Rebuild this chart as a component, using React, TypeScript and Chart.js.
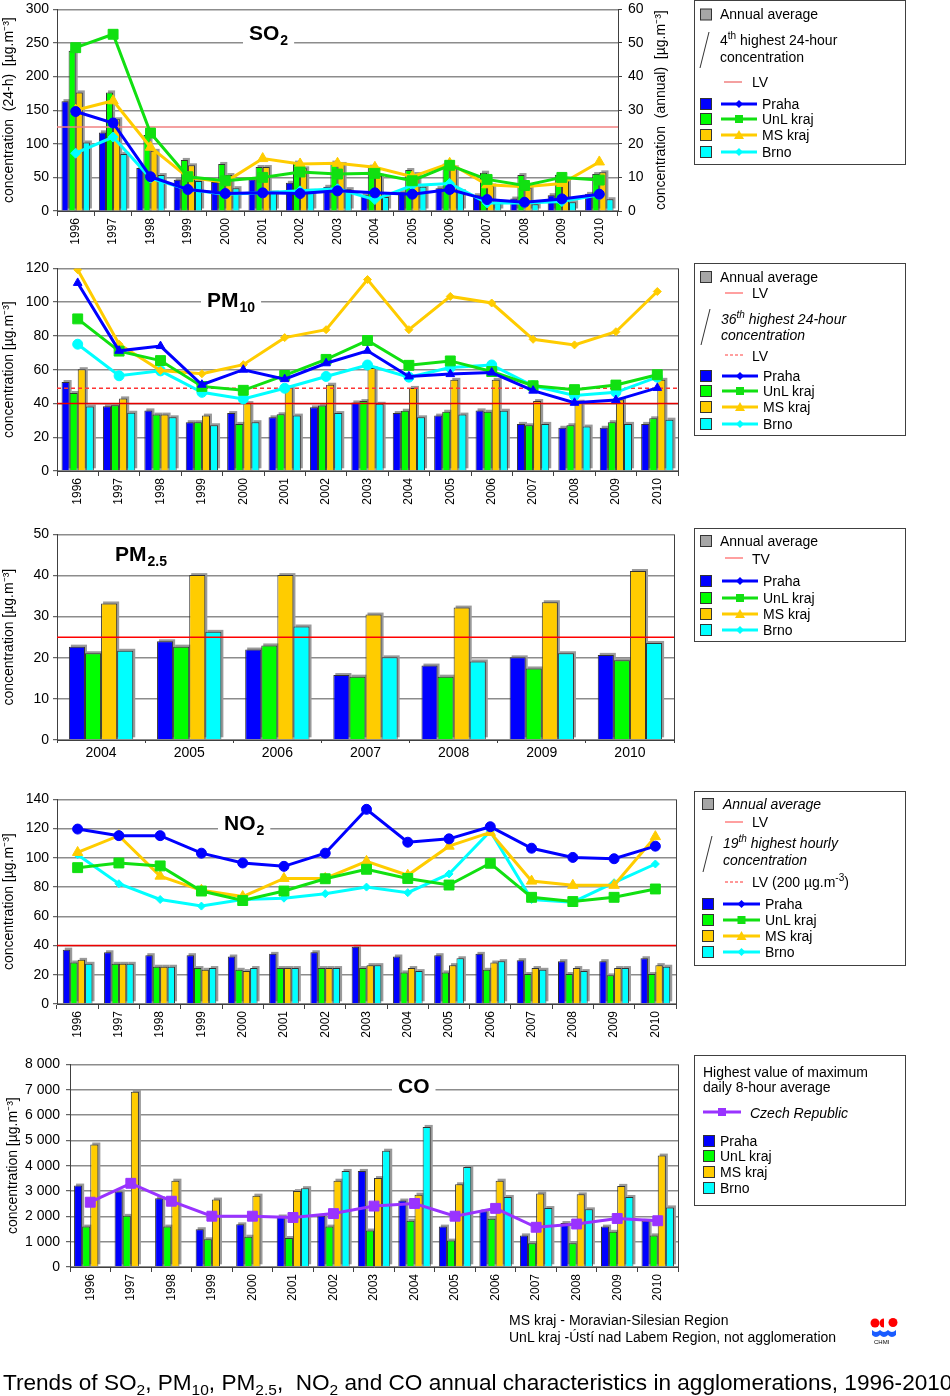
import React, { useEffect, useRef } from 'react';
import { Chart, registerables } from 'chart.js';
Chart.register(...registerables);

const FONT = "'Liberation Sans', Arial, Helvetica, sans-serif";

// ---------- categories ----------
const YEARS = ['1996', '1997', '1998', '1999', '2000', '2001', '2002', '2003', '2004', '2005', '2006', '2007', '2008', '2009', '2010'];
const PM25_YEARS = ['2004', '2005', '2006', '2007', '2008', '2009', '2010'];

// ---------- SO2 ----------
const so2AnnPraha = [32.7, 23.4, 12.8, 9.3, 8.6, 9.4, 8.4, 7.2, 4.8, 5.6, 6.8, 4.7, 3.7, 4.7, 5.1];
const so2AnnUnL = [47.7, 35.3, 22.6, 15.2, 14.0, 13.1, 14.4, 14.4, 13.2, 12.2, 14.1, 11.4, 10.7, 10.8, 11.0];
const so2AnnMS = [35.3, 27.3, 17.9, 13.6, 10.7, 13.1, 12.7, 14.0, 10.5, 11.0, 13.0, 7.6, 7.0, 9.5, 11.5];
const so2AnnBrno = [20.4, 17.0, 10.7, 8.9, 6.8, 5.5, 6.0, 6.5, 4.2, 7.2, 5.9, 2.3, 2.0, 2.6, 3.5];
const so2MaxPraha = [148, 131, 51, 32, 26, 27, 26, 30, 27, 25, 32, 17, 13, 18, 25];
const so2MaxUnL = [243, 263, 116, 51, 45, 50, 58, 55, 56, 45, 68, 47, 38, 50, 46];
const so2MaxMS = [150, 164, 95, 50, 43, 78, 70, 71, 65, 51, 71, 39, 36, 41, 73];
const so2MaxBrno = [86, 110, 49, 32, 25, 27, 30, 33, 17, 38, 41, 12, 12, 14, 24];
const SO2_LV = 125;

// ---------- PM10 ----------
const pm10AnnPraha = [52.7, 38.4, 35.9, 28.9, 34.3, 31.8, 37.7, 40.6, 34.3, 32.8, 35.9, 27.9, 25.6, 25.6, 27.9];
const pm10AnnUnL = [46.2, 39.0, 33.4, 28.9, 27.9, 33.6, 38.8, 41.4, 35.7, 35.1, 35.1, 27.1, 27.1, 28.9, 31.2];
const pm10AnnMS = [60.3, 43.0, 33.4, 32.8, 40.2, 49.4, 51.1, 61.0, 49.2, 54.0, 54.0, 41.4, 41.0, 42.3, 54.0];
const pm10AnnBrno = [38.2, 34.5, 31.8, 27.1, 28.9, 32.8, 34.3, 39.8, 31.8, 33.4, 35.7, 27.9, 26.3, 27.9, 30.4];
const pm10MaxPraha = [111.4, 71.2, 74.0, 51.1, 60.0, 54.4, 63.8, 71.2, 56.0, 57.4, 58.3, 47.6, 40.4, 42.0, 49.2];
const pm10MaxUnL = [90.1, 71.0, 65.4, 50.1, 47.8, 56.6, 66.1, 77.3, 62.6, 65.2, 58.9, 50.5, 48.2, 50.9, 57.0];
const pm10MaxMS = [119.2, 75.1, 59.5, 57.6, 63.0, 79.0, 83.7, 113.4, 83.7, 103.4, 99.5, 78.0, 74.7, 82.5, 106.3];
const pm10MaxBrno = [75.1, 56.4, 59.3, 46.6, 42.7, 49.0, 56.0, 62.8, 55.6, 61.3, 62.8, 50.5, 44.7, 46.6, 55.6];
const PM10_LV_ANNUAL = 40;
const PM10_LV_36TH = 49;

// ---------- PM2.5 ----------
const pm25Praha = [22.7, 24.0, 22.0, 15.8, 18.1, 20.1, 20.7];
const pm25UnL = [21.1, 22.7, 23.0, 15.4, 15.4, 17.4, 19.4];
const pm25MS = [33.2, 40.1, 40.1, 30.5, 32.2, 33.5, 41.1];
const pm25Brno = [21.7, 26.3, 27.6, 20.1, 19.1, 21.1, 23.6];
const PM25_TV = 25;

// ---------- NO2 ----------
const no2AnnPraha = [37.2, 35.4, 33.4, 33.4, 32.5, 34.3, 35.4, 39.2, 32.5, 33.4, 34.3, 30.0, 29.3, 29.3, 31.3];
const no2AnnUnL = [28.4, 27.5, 25.5, 24.6, 23.4, 24.6, 24.6, 24.6, 21.6, 21.6, 23.4, 20.5, 20.5, 19.6, 20.5];
const no2AnnMS = [30.2, 27.5, 25.5, 23.4, 22.5, 24.6, 24.6, 26.6, 24.6, 26.6, 28.4, 24.6, 24.6, 24.6, 26.6];
const no2AnnBrno = [27.5, 27.5, 25.5, 24.6, 24.6, 24.6, 24.6, 26.6, 22.5, 31.3, 29.3, 23.4, 22.5, 24.6, 25.5];
const no2MaxPraha = [119.7, 115.2, 115.2, 103.2, 96.5, 94.2, 103.2, 133.2, 110.7, 113.0, 121.3, 106.6, 100.3, 99.4, 108.0];
const no2MaxUnL = [93.3, 96.5, 94.5, 77.3, 70.8, 77.3, 85.7, 92.2, 85.9, 81.4, 96.3, 73.0, 70.1, 73.0, 78.7];
const no2MaxMS = [103.7, 115.2, 87.5, 77.8, 73.5, 85.9, 85.9, 97.6, 88.1, 108.0, 117.4, 84.1, 81.2, 81.2, 114.5];
const no2MaxBrno = [102.1, 82.3, 71.5, 67.0, 71.5, 72.4, 75.5, 80.0, 76.2, 89.0, 118.3, 71.5, 69.7, 83.0, 95.8];
const NO2_LV = 40;

// ---------- CO ----------
const coPraha = [3215, 2984, 2714, 1492, 1685, 1994, 2019, 3794, 2624, 1595, 2199, 1248, 1736, 1595, 1826];
const coUnL = [1595, 2019, 1595, 1093, 1196, 1145, 1595, 1440, 1826, 1042, 1904, 939, 939, 1389, 1248];
const coMS = [4836, 6920, 3408, 2662, 2817, 2997, 3408, 3511, 2855, 3267, 3408, 2907, 2868, 3203, 4399];
const coBrno = [null, null, null, null, null, 3113, 3794, 4592, 5531, 3949, 2765, 2328, 2277, 2765, 2354];
const coCZ = [2559, 3305, 2598, 2006, 2006, 1955, 2109, 2405, 2508, 2006, 2315, 1569, 1698, 1916, 1826];

// ---------- styles ----------
const C_PRAHA = '#0000ff';
const C_UNL = '#00ff00';
const C_UNL_LINE = '#11e011';
const C_MS = '#ffcc00';
const C_BRNO = '#00ffff';
const C_CZ = '#9933ff';
const C_GRAY = '#a6a6a6';
const GRID = '#8c8c8c';
const AXIS = '#404040';

type RefLine = { axis: string; value: number; color: string; dash?: number[]; width?: number };
type Decor = {
  refLines?: RefLine[];
  title?: { main: string; sub?: string; x: number; y: number };
  rightTitle?: { text: string; x: number };
  frameRight?: boolean;
};

function makeDecor(d: Decor) {
  return {
    id: 'decor',
    beforeDatasetsDraw(chart: any) {
      const { ctx, chartArea: a } = chart;
      if (d.frameRight) {
        ctx.save();
        ctx.strokeStyle = AXIS;
        ctx.lineWidth = 1;
        ctx.beginPath();
        ctx.moveTo(a.right + 0.5, a.top);
        ctx.lineTo(a.right + 0.5, a.bottom);
        ctx.stroke();
        ctx.restore();
      }
      // soft grey shadow behind the bars (Excel-like 3D look)
      ctx.save();
      ctx.beginPath();
      ctx.rect(a.left, a.top - 3, a.right - a.left, a.bottom - a.top + 3);
      ctx.clip();
      ctx.fillStyle = '#9a9a9a';
      chart.data.datasets.forEach((ds: any, i: number) => {
        if (ds.type !== 'bar') return;
        const meta = chart.getDatasetMeta(i);
        meta.data.forEach((el: any, j: number) => {
          const v = ds.data[j];
          if (v === null || v === undefined) return;
          const p = el.getProps(['x', 'y', 'base', 'width'], true);
          ctx.fillRect(p.x - p.width / 2 + 2, p.y - 2, p.width, p.base - p.y);
        });
      });
      ctx.restore();
      if (d.title) {
        const t = d.title;
        ctx.save();
        ctx.font = `bold 21px ${FONT}`;
        const w1 = ctx.measureText(t.main).width;
        ctx.font = `bold 14px ${FONT}`;
        const w2 = t.sub ? ctx.measureText(t.sub).width + 1 : 0;
        const x = a.left + t.x;
        const cy = a.top + t.y;
        ctx.fillStyle = '#fff';
        ctx.fillRect(x - 6, cy - 13, w1 + w2 + 12, 28);
        ctx.fillStyle = '#000';
        ctx.textAlign = 'left';
        ctx.textBaseline = 'alphabetic';
        ctx.font = `bold 21px ${FONT}`;
        ctx.fillText(t.main, x, cy + 7.5);
        if (t.sub) {
          ctx.font = `bold 14px ${FONT}`;
          ctx.fillText(t.sub, x + w1 + 1, cy + 12.5);
        }
        ctx.restore();
      }
    },
    afterDatasetDraw(chart: any, args: any) {
      if (args.index !== 0 || !d.refLines) return;
      const { ctx, chartArea: a } = chart;
      d.refLines.forEach((r) => {
        const y = chart.scales[r.axis].getPixelForValue(r.value);
        ctx.save();
        ctx.strokeStyle = r.color;
        ctx.lineWidth = r.width || 1.2;
        ctx.setLineDash(r.dash || []);
        ctx.beginPath();
        ctx.moveTo(a.left, y);
        ctx.lineTo(a.right, y);
        ctx.stroke();
        ctx.restore();
      });
    },
    afterDraw(chart: any) {
      if (!d.rightTitle) return;
      const { ctx, chartArea: a } = chart;
      ctx.save();
      ctx.translate(d.rightTitle.x, (a.top + a.bottom) / 2);
      ctx.rotate(-Math.PI / 2);
      ctx.font = `14px ${FONT}`;
      ctx.fillStyle = '#000';
      ctx.textAlign = 'center';
      ctx.textBaseline = 'middle';
      ctx.fillText(d.rightTitle.text, 0, 0);
      ctx.restore();
    },
  };
}

const spaceThousands = (v: any) => String(v).replace(/\B(?=(\d{3})+(?!\d))/g, ' ');

function yLeft(min: number, max: number, step: number, title: string, width: number, titlePad: number, tickPad: number, cb?: any) {
  return {
    type: 'linear',
    position: 'left',
    min,
    max,
    ticks: { stepSize: step, font: { family: FONT, size: 14 }, color: '#000', padding: tickPad, ...(cb ? { callback: cb } : {}) },
    grid: { color: GRID, lineWidth: 1.4, tickLength: 4, tickColor: AXIS, tickWidth: 1 },
    border: { color: AXIS, width: 1 },
    title: { display: true, text: title, font: { family: FONT, size: 14 }, color: '#000', padding: { top: titlePad, bottom: 0 } },
    afterFit: (s: any) => {
      s.width = width;
    },
  };
}

function xAxis(labels: string[], rot: number, height: number, size: number) {
  return {
    type: 'category',
    labels,
    offset: true,
    grid: { offset: true, drawOnChartArea: false, tickLength: 5, color: AXIS },
    border: { color: AXIS, width: 1 },
    ticks: { autoSkip: false, minRotation: rot, maxRotation: rot, font: { family: FONT, size }, color: '#000', padding: 2 },
    afterFit: (s: any) => {
      s.height = height;
    },
  };
}

function bar(label: string, data: any[], color: string, cp: number, yAxisID = 'y') {
  return {
    type: 'bar',
    label,
    data,
    backgroundColor: color,
    borderColor: '#333333',
    borderWidth: 1,
    yAxisID,
    order: 2,
    categoryPercentage: cp,
    barPercentage: 1,
  };
}

function line(label: string, data: any[], color: string, style: string, r: number) {
  return {
    type: 'line',
    label,
    data,
    borderColor: color,
    backgroundColor: color,
    borderWidth: 3,
    pointStyle: style,
    pointRadius: r,
    pointBackgroundColor: color,
    pointBorderColor: color,
    pointBorderWidth: 1,
    tension: 0,
    yAxisID: 'y',
    order: 1,
  };
}

function baseOptions(padRight: number, scales: any) {
  return {
    responsive: false,
    animation: false,
    events: [],
    layout: { padding: { top: 10, right: padRight, left: 0, bottom: 0 } },
    plugins: { legend: { display: false }, tooltip: { enabled: false } },
    scales,
  };
}

const UNIT = '[µg.m⁻³]';

function so2Config() {
  const cp = 0.76;
  return {
    type: 'bar',
    data: {
      labels: YEARS,
      datasets: [
        bar('Praha', so2AnnPraha, C_PRAHA, cp, 'y1'),
        bar('UnL kraj', so2AnnUnL, C_UNL, cp, 'y1'),
        bar('MS kraj', so2AnnMS, C_MS, cp, 'y1'),
        bar('Brno', so2AnnBrno, C_BRNO, cp, 'y1'),
        line('Praha', so2MaxPraha, C_PRAHA, 'circle', 5),
        line('UnL kraj', so2MaxUnL, C_UNL_LINE, 'rect', 7),
        line('MS kraj', so2MaxMS, C_MS, 'triangle', 6),
        line('Brno', so2MaxBrno, C_BRNO, 'rectRot', 5),
      ],
    },
    options: baseOptions(0, {
      x: xAxis(YEARS, 90, 40, 12),
      y: yLeft(0, 300, 50, 'concentration  (24-h)  ' + UNIT, 57, 1, 4),
      y1: {
        type: 'linear',
        position: 'right',
        min: 0,
        max: 60,
        ticks: { stepSize: 10, font: { family: FONT, size: 14 }, color: '#000', padding: 6 },
        grid: { drawOnChartArea: false, tickLength: 4, color: AXIS },
        border: { color: AXIS, width: 1 },
        afterFit: (s: any) => {
          s.width = 72;
        },
      },
    }),
    plugins: [
      makeDecor({
        refLines: [{ axis: 'y', value: SO2_LV, color: '#f08080', width: 1.5 }],
        title: { main: 'SO', sub: '2', x: 192, y: 23 },
        rightTitle: { text: 'concentration  (annual)  ' + UNIT, x: 661 },
      }),
    ],
  };
}

function pm10Config() {
  const cp = 0.78;
  return {
    type: 'bar',
    data: {
      labels: YEARS,
      datasets: [
        bar('Praha', pm10AnnPraha, C_PRAHA, cp),
        bar('UnL kraj', pm10AnnUnL, C_UNL, cp),
        bar('MS kraj', pm10AnnMS, C_MS, cp),
        bar('Brno', pm10AnnBrno, C_BRNO, cp),
        line('Praha', pm10MaxPraha, C_PRAHA, 'triangle', 5),
        line('UnL kraj', pm10MaxUnL, C_UNL_LINE, 'rect', 7),
        line('MS kraj', pm10MaxMS, C_MS, 'rectRot', 4),
        line('Brno', pm10MaxBrno, C_BRNO, 'circle', 5),
      ],
    },
    options: baseOptions(12, {
      x: xAxis(YEARS, 90, 40, 12),
      y: yLeft(0, 120, 20, 'concentration ' + UNIT, 57, 1, 4),
    }),
    plugins: [
      makeDecor({
        frameRight: true,
        refLines: [
          { axis: 'y', value: PM10_LV_ANNUAL, color: '#e60000', width: 1.4 },
          { axis: 'y', value: PM10_LV_36TH, color: '#ff3333', width: 1.4, dash: [4, 3] },
        ],
        title: { main: 'PM', sub: '10', x: 150, y: 31 },
      }),
    ],
  };
}

function pm25Config() {
  const cp = 0.73;
  return {
    type: 'bar',
    data: {
      labels: PM25_YEARS,
      datasets: [
        bar('Praha', pm25Praha, C_PRAHA, cp),
        bar('UnL kraj', pm25UnL, C_UNL, cp),
        bar('MS kraj', pm25MS, C_MS, cp),
        bar('Brno', pm25Brno, C_BRNO, cp),
      ],
    },
    options: baseOptions(16, {
      x: { ...xAxis(PM25_YEARS, 0, 22, 14), grid: { offset: true, drawOnChartArea: false, tickLength: 3, color: AXIS } },
      y: yLeft(0, 50, 10, 'concentration ' + UNIT, 57, 1, 4),
    }),
    plugins: [
      makeDecor({
        frameRight: true,
        refLines: [{ axis: 'y', value: PM25_TV, color: '#ff0000', width: 1.4 }],
        title: { main: 'PM', sub: '2.5', x: 58, y: 19 },
      }),
    ],
  };
}

function no2Config() {
  const cp = 0.72;
  return {
    type: 'bar',
    data: {
      labels: YEARS,
      datasets: [
        bar('Praha', no2AnnPraha, C_PRAHA, cp),
        bar('UnL kraj', no2AnnUnL, C_UNL, cp),
        bar('MS kraj', no2AnnMS, C_MS, cp),
        bar('Brno', no2AnnBrno, C_BRNO, cp),
        line('Praha', no2MaxPraha, C_PRAHA, 'circle', 5),
        line('UnL kraj', no2MaxUnL, C_UNL_LINE, 'rect', 7),
        line('MS kraj', no2MaxMS, C_MS, 'triangle', 6),
        line('Brno', no2MaxBrno, C_BRNO, 'rectRot', 4),
      ],
    },
    options: baseOptions(14, {
      x: xAxis(YEARS, 90, 40, 12),
      y: yLeft(0, 140, 20, 'concentration ' + UNIT, 57, 1, 4),
    }),
    plugins: [
      makeDecor({
        frameRight: true,
        refLines: [{ axis: 'y', value: NO2_LV, color: '#ee0000', width: 1.4 }],
        title: { main: 'NO', sub: '2', x: 167, y: 23 },
      }),
    ],
  };
}

function coConfig() {
  const cp = 0.8;
  return {
    type: 'bar',
    data: {
      labels: YEARS,
      datasets: [
        bar('Praha', coPraha, C_PRAHA, cp),
        bar('UnL kraj', coUnL, C_UNL, cp),
        bar('MS kraj', coMS, C_MS, cp),
        bar('Brno', coBrno, C_BRNO, cp),
        line('Czech Republic', coCZ, C_CZ, 'rect', 7),
      ],
    },
    options: baseOptions(12, {
      x: xAxis(YEARS, 90, 40, 12),
      y: yLeft(0, 8000, 1000, 'concentration ' + UNIT, 70, 5, 6, spaceThousands),
    }),
    plugins: [
      makeDecor({
        frameRight: true,
        title: { main: 'CO', x: 328, y: 21 },
      }),
    ],
  };
}

function ChartCanvas({ top, width, height, make }: { top: number; width: number; height: number; make: () => any }) {
  const ref = useRef<HTMLCanvasElement>(null);
  useEffect(() => {
    const chart = new Chart(ref.current as HTMLCanvasElement, make());
    return () => chart.destroy();
  }, []);
  return (
    <canvas
      ref={ref}
      width={width}
      height={height}
      style={{ position: 'absolute', left: 0, top, width, height, display: 'block' }}
    />
  );
}

// ---------- SVG legend helpers ----------
function Box({ x, y, w, h }: any) {
  return <rect x={x + 0.5} y={y + 0.5} width={w} height={h} fill="#fff" stroke={AXIS} strokeWidth={1} />;
}
function Sq({ x, cy, color }: any) {
  return <rect x={x + 0.5} y={cy - 5.5} width={11} height={11} fill={color} stroke="#333" strokeWidth={1} />;
}
function T({ x, y, italic, children, size = 14 }: any) {
  return (
    <text x={x} y={y} fontFamily={FONT} fontSize={size} fontStyle={italic ? 'italic' : 'normal'} fill="#000">
      {children}
    </text>
  );
}
function Sup({ children }: any) {
  return (
    <tspan dy={-6} fontSize={10}>
      {children}
    </tspan>
  );
}
function Marker({ shape, cx, cy, color }: any) {
  if (shape === 'rect') return <rect x={cx - 4} y={cy - 4} width={8} height={8} fill={color} />;
  if (shape === 'triangle') return <polygon points={`${cx},${cy - 5} ${cx + 5},${cy + 4} ${cx - 5},${cy + 4}`} fill={color} />;
  return <polygon points={`${cx},${cy - 4} ${cx + 4},${cy} ${cx},${cy + 4} ${cx - 4},${cy}`} fill={color} />;
}
function LineSample({ x1, x2, y, color, shape, dash, width = 3 }: any) {
  return (
    <g>
      <line x1={x1} y1={y} x2={x2} y2={y} stroke={color} strokeWidth={width} strokeDasharray={dash} />
      {shape ? <Marker shape={shape} cx={(x1 + x2) / 2} cy={y} color={color} /> : null}
    </g>
  );
}
function SeriesRows({ sqX, lineX1, lineX2, textX, rows }: any) {
  const series = [
    { name: 'Praha', color: C_PRAHA, line: C_PRAHA, shape: 'diamond' },
    { name: 'UnL kraj', color: C_UNL, line: C_UNL_LINE, shape: 'rect' },
    { name: 'MS kraj', color: C_MS, line: C_MS, shape: 'triangle' },
    { name: 'Brno', color: C_BRNO, line: C_BRNO, shape: 'diamond' },
  ];
  return (
    <g>
      {series.map((s, i) => (
        <g key={s.name}>
          <Sq x={sqX} cy={rows[i]} color={s.color} />
          {lineX1 != null ? <LineSample x1={lineX1} x2={lineX2} y={rows[i]} color={s.line} shape={s.shape} /> : null}
          <T x={textX} y={rows[i] + 5}>
            {s.name}
          </T>
        </g>
      ))}
    </g>
  );
}

function Overlay() {
  return (
    <svg
      width={950}
      height={1396}
      style={{ position: 'absolute', left: 0, top: 0, pointerEvents: 'none' }}
      xmlns="http://www.w3.org/2000/svg"
    >
      {/* SO2 legend */}
      <Box x={694} y={0} w={211} h={164} />
      <Sq x={700} cy={14.5} color={C_GRAY} />
      <T x={720} y={19}>Annual average</T>
      <line x1={709} y1={32} x2={700} y2={68} stroke="#333" strokeWidth={1} />
      <T x={720} y={45}>
        4<Sup>th</Sup>
        <tspan dy={6}> highest 24-hour</tspan>
      </T>
      <T x={720} y={62}>concentration</T>
      <LineSample x1={724} x2={742} y={82} color="#f08080" width={1.5} />
      <T x={752} y={87}>LV</T>
      <SeriesRows sqX={700} lineX1={721} lineX2={757} textX={762} rows={[104, 119, 135, 152]} />

      {/* PM10 legend */}
      <Box x={694} y={263} w={211} h={172} />
      <Sq x={700} cy={277} color={C_GRAY} />
      <T x={720} y={282}>Annual average</T>
      <LineSample x1={725} x2={743} y={293} color="#ff8080" width={1.5} />
      <T x={752} y={298}>LV</T>
      <line x1={710} y1={309} x2={701} y2={345} stroke="#333" strokeWidth={1} />
      <T x={721} y={324} italic>
        36<Sup>th</Sup>
        <tspan dy={6}> highest 24-hour</tspan>
      </T>
      <T x={721} y={340} italic>
        concentration
      </T>
      <LineSample x1={725} x2={743} y={355} color="#ff8080" width={1.5} dash="3 2" />
      <T x={752} y={361}>LV</T>
      <SeriesRows sqX={700} lineX1={722} lineX2={758} textX={763} rows={[376, 391, 407, 424]} />

      {/* PM2.5 legend */}
      <Box x={694} y={528} w={211} h={113} />
      <Sq x={700} cy={541} color={C_GRAY} />
      <T x={720} y={546}>Annual average</T>
      <LineSample x1={725} x2={743} y={558} color="#ff8080" width={1.5} />
      <T x={752} y={564}>TV</T>
      <SeriesRows sqX={700} lineX1={722} lineX2={758} textX={763} rows={[581, 598, 614, 630]} />

      {/* NO2 legend */}
      <Box x={694} y={791} w={211} h={174} />
      <Sq x={702} cy={804} color={C_GRAY} />
      <T x={723} y={809} italic>
        Annual average
      </T>
      <LineSample x1={725} x2={743} y={822} color="#ff8080" width={1.5} />
      <T x={752} y={827}>LV</T>
      <line x1={712} y1={836} x2={703} y2={872} stroke="#333" strokeWidth={1} />
      <T x={723} y={848} italic>
        19<Sup>th</Sup>
        <tspan dy={6}> highest hourly</tspan>
      </T>
      <T x={723} y={865} italic>
        concentration
      </T>
      <LineSample x1={725} x2={743} y={882} color="#ff3030" width={1} dash="3 2" />
      <T x={752} y={887}>
        LV (200 µg.m<Sup>-3</Sup>
        <tspan dy={6}>)</tspan>
      </T>
      <SeriesRows sqX={702} lineX1={723} lineX2={760} textX={765} rows={[904, 920, 936, 952]} />

      {/* CO legend */}
      <Box x={694} y={1055} w={211} h={150} />
      <T x={703} y={1077}>Highest value of maximum</T>
      <T x={703} y={1092}>daily 8-hour average</T>
      <LineSample x1={703} x2={741} y={1112} color={C_CZ} shape="rect" />
      <T x={750} y={1118} italic>
        Czech Republic
      </T>
      <SeriesRows sqX={703} textX={720} rows={[1141, 1156, 1172, 1188]} />

      {/* notes */}
      <T x={509} y={1325}>MS kraj - Moravian-Silesian Region</T>
      <T x={509} y={1342}>UnL kraj -Ústí nad Labem Region, not agglomeration</T>

      {/* CHMI logo */}
      <circle cx={875} cy={1323} r={4.5} fill="#ff0000" />
      <path d="M 884 1318.5 A 4.5 4.5 0 0 0 884 1327.5 Z" fill="#ff0000" />
      <circle cx={893} cy={1322.5} r={4.5} fill="#ff0000" />
      <path d="M 872 1330 Q 876 1334 880 1330 Q 884 1334 888 1330 Q 892 1334 896 1330 L 896 1335 Q 892 1339 888 1335 Q 884 1339 880 1335 Q 876 1339 872 1335 Z" fill="#1a5cff" />
      <T x={874} y={1344} size={6}>
        CHMI
      </T>

      {/* caption */}
      <text x={3} y={1390} fontFamily={FONT} fontSize={22.6} fill="#000" style={{ whiteSpace: 'pre' }}>
        Trends of SO<tspan dy={5} fontSize={15.5}>2</tspan>
        <tspan dy={-5}>, PM</tspan>
        <tspan dy={5} fontSize={15.5}>10</tspan>
        <tspan dy={-5}>, PM</tspan>
        <tspan dy={5} fontSize={15.5}>2.5</tspan>
        <tspan dy={-5}>,  NO</tspan>
        <tspan dy={5} fontSize={15.5}>2</tspan>
        <tspan dy={-5}> and CO annual characteristics in agglomerations, 1996-2010</tspan>
      </text>
    </svg>
  );
}

export default function App() {
  return (
    <div style={{ position: 'absolute', left: 0, top: 0, width: 950, height: 1396, background: '#fff', overflow: 'hidden' }}>
      <ChartCanvas top={-5} width={690} height={256} make={so2Config} />
      <ChartCanvas top={256} width={690} height={255} make={pm10Config} />
      <ChartCanvas top={522} width={690} height={240} make={pm25Config} />
      <ChartCanvas top={787} width={690} height={257} make={no2Config} />
      <ChartCanvas top={1050} width={690} height={257} make={coConfig} />
      <Overlay />
    </div>
  );
}
